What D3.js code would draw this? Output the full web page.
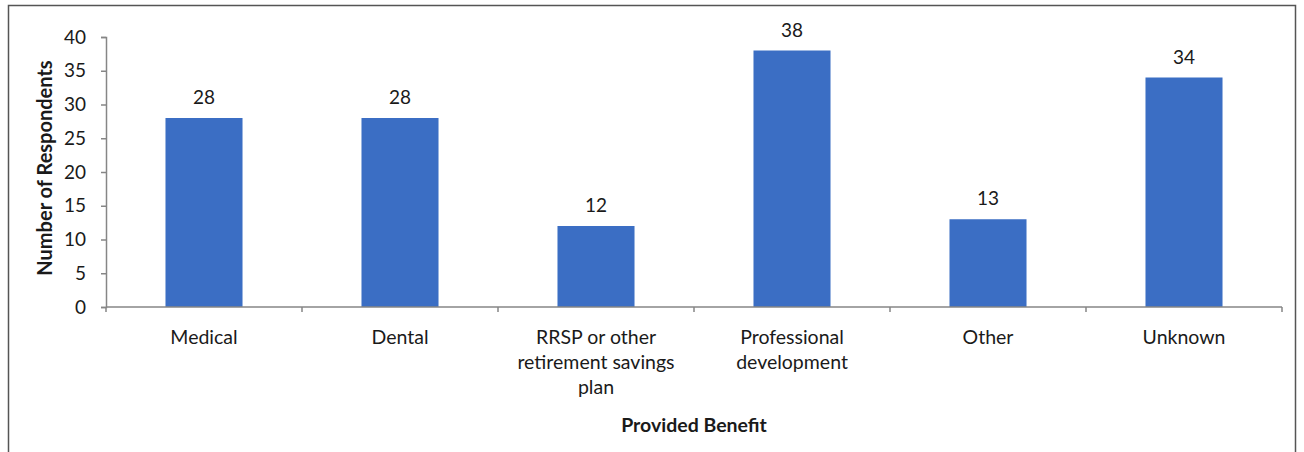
<!DOCTYPE html>
<html>
<head>
<meta charset="utf-8">
<script src="https://cdn.jsdelivr.net/npm/d3@7"></script>
<style>
  body { margin: 0; background: #fff; }
  svg text { font-family: Lato, "Open Sans", sans-serif; fill: #1a1a1a; }
</style>
</head>
<body>
<svg id="chart" width="1304" height="452"></svg>
<script>
// chart data
var benefits = ["Medical", "Dental", "RRSP or other retirement savings plan", "Professional development", "Other", "Unknown"];
var labelLines = [["Medical"], ["Dental"], ["RRSP or other", "retirement savings", "plan"], ["Professional", "development"], ["Other"], ["Unknown"]];
var respondents = [28, 28, 12, 38, 13, 34];
var yTicks = [0, 5, 10, 15, 20, 25, 30, 35, 40];

var svg = d3.select("#chart");

// outer frame
svg.append("path")
  .attr("d", "M8.5,452 V5.5 H1295.5 V452")
  .attr("fill", "none")
  .attr("stroke", "#555")
  .attr("stroke-width", 1.5);

var plotL = 106, plotR = 1282, plotT = 37, plotB = 307;

var x = d3.scaleBand().domain(benefits).range([plotL, plotR]).paddingInner(0.607).paddingOuter(0.3035);
var xb = d3.scaleBand().domain(benefits).range([plotL, plotR]); // category boundaries
var y = d3.scaleLinear().domain([0, 40]).range([plotB, plotT]);

var axisColor = "#868686";

// bars
svg.selectAll("rect.bar")
  .data(respondents).enter()
  .append("rect")
  .attr("class", "bar")
  .attr("x", function(d, i) { return x(benefits[i]); })
  .attr("y", function(d) { return y(d); })
  .attr("width", x.bandwidth())
  .attr("height", function(d) { return y(0) - y(d); })
  .attr("fill", "#3b6ec4");

// value labels
svg.selectAll("text.val")
  .data(respondents).enter()
  .append("text")
  .attr("class", "val")
  .attr("x", function(d, i) { return x(benefits[i]) + x.bandwidth() / 2; })
  .attr("y", function(d) { return y(d) - 14; })
  .attr("text-anchor", "middle")
  .style("font-size", "19px")
  .text(function(d) { return d; });

// y axis
var yAxis = svg.append("g")
  .attr("transform", "translate(" + plotL + ",0)")
  .call(d3.axisLeft(y).tickValues(yTicks).tickSize(5).tickPadding(15));
yAxis.select(".domain").attr("stroke", axisColor).attr("stroke-width", 1.5);
yAxis.selectAll(".tick line").attr("stroke", axisColor).attr("stroke-width", 1.5);
yAxis.selectAll(".tick text").style("font-size", "19px").attr("fill", "#1a1a1a");

// x axis
svg.append("line")
  .attr("x1", plotL).attr("x2", plotR)
  .attr("y1", plotB).attr("y2", plotB)
  .attr("stroke", axisColor).attr("stroke-width", 1.5);
var bounds = benefits.map(function(b) { return xb(b); }).concat([plotR]);
svg.selectAll("line.xtick")
  .data(bounds).enter()
  .append("line")
  .attr("class", "xtick")
  .attr("x1", function(d) { return d; }).attr("x2", function(d) { return d; })
  .attr("y1", plotB).attr("y2", plotB + 5)
  .attr("stroke", axisColor).attr("stroke-width", 1.5);

// category labels
var cats = svg.selectAll("text.cat")
  .data(labelLines).enter()
  .append("text")
  .attr("class", "cat")
  .attr("text-anchor", "middle")
  .style("font-size", "19.5px");
cats.each(function(lines, i) {
  var t = d3.select(this);
  lines.forEach(function(l, j) {
    t.append("tspan")
      .attr("x", xb(benefits[i]) + xb.bandwidth() / 2)
      .attr("y", 344 + j * 25)
      .text(l);
  });
});

// axis titles
svg.append("text")
  .attr("transform", "translate(52,168) rotate(-90)")
  .attr("text-anchor", "middle")
  .style("font-size", "20px")
  .style("font-weight", "bold")
  .text("Number of Respondents");

svg.append("text")
  .attr("x", (plotL + plotR) / 2)
  .attr("y", 432)
  .attr("text-anchor", "middle")
  .style("font-size", "19.5px")
  .style("font-weight", "bold")
  .text("Provided Benefit");
</script>
</body>
</html>
